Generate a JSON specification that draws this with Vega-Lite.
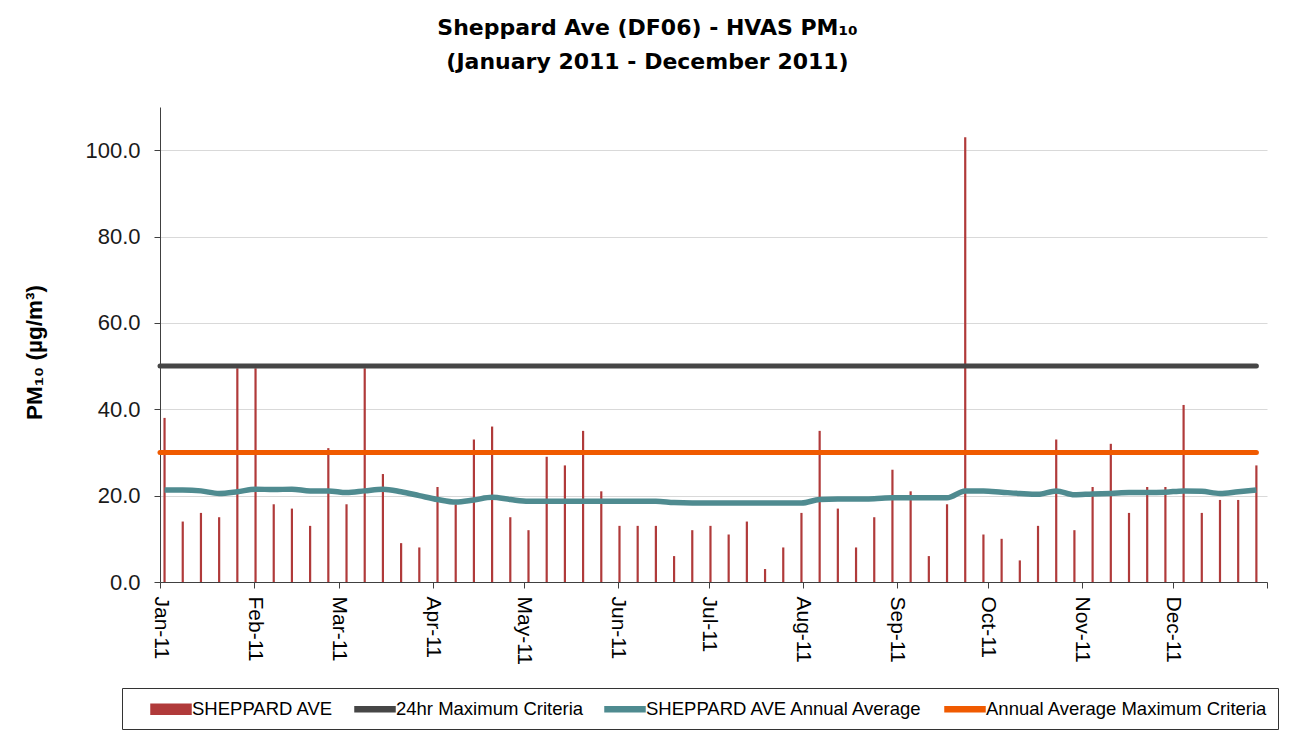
{
  "$schema": "https://vega.github.io/schema/vega-lite/v6.json",
  "width": 1107,
  "height": 475,
  "autosize": {"type": "none"},
  "padding": {"left": 160, "top": 107, "right": 26, "bottom": 154},
  "background": "white",
  "config": {"view": {"stroke": null}, "font": "Liberation Sans"},
  "title": {
    "text": ["Sheppard Ave (DF06) - HVAS PM₁₀", "(January 2011 - December 2011)"],
    "font": "DejaVu Sans",
    "fontSize": 22,
    "fontWeight": "bold",
    "lineHeight": 34,
    "anchor": "middle",
    "frame": "group",
    "dx": -66,
    "offset": 33,
    "color": "#000000"
  },
  "datasets": {
    "samples": [
      {"date": "2011-01-02T12:00:00", "pm10": 38, "avg": 21.3},
      {"date": "2011-01-08T12:00:00", "pm10": 14, "avg": 21.3},
      {"date": "2011-01-14T12:00:00", "pm10": 16, "avg": 21.1},
      {"date": "2011-01-20T12:00:00", "pm10": 15, "avg": 20.5},
      {"date": "2011-01-26T12:00:00", "pm10": 49.5, "avg": 20.9},
      {"date": "2011-02-01T12:00:00", "pm10": 49.5, "avg": 21.5},
      {"date": "2011-02-07T12:00:00", "pm10": 18, "avg": 21.4},
      {"date": "2011-02-13T12:00:00", "pm10": 17, "avg": 21.5},
      {"date": "2011-02-19T12:00:00", "pm10": 13, "avg": 21.1},
      {"date": "2011-02-25T12:00:00", "pm10": 31, "avg": 21.1},
      {"date": "2011-03-03T12:00:00", "pm10": 18, "avg": 20.7},
      {"date": "2011-03-09T12:00:00", "pm10": 49.5, "avg": 21.1},
      {"date": "2011-03-15T12:00:00", "pm10": 25, "avg": 21.5},
      {"date": "2011-03-21T12:00:00", "pm10": 9, "avg": 20.9},
      {"date": "2011-03-27T12:00:00", "pm10": 8, "avg": 20.0},
      {"date": "2011-04-02T12:00:00", "pm10": 22, "avg": 19.1},
      {"date": "2011-04-08T12:00:00", "pm10": 18, "avg": 18.5},
      {"date": "2011-04-14T12:00:00", "pm10": 33, "avg": 19.0},
      {"date": "2011-04-20T12:00:00", "pm10": 36, "avg": 19.6},
      {"date": "2011-04-26T12:00:00", "pm10": 15, "avg": 19.1},
      {"date": "2011-05-02T12:00:00", "pm10": 12, "avg": 18.7},
      {"date": "2011-05-08T12:00:00", "pm10": 29, "avg": 18.7},
      {"date": "2011-05-14T12:00:00", "pm10": 27, "avg": 18.7},
      {"date": "2011-05-20T12:00:00", "pm10": 35, "avg": 18.7},
      {"date": "2011-05-26T12:00:00", "pm10": 21, "avg": 18.7},
      {"date": "2011-06-01T12:00:00", "pm10": 13, "avg": 18.7},
      {"date": "2011-06-07T12:00:00", "pm10": 13, "avg": 18.7},
      {"date": "2011-06-13T12:00:00", "pm10": 13, "avg": 18.7},
      {"date": "2011-06-19T12:00:00", "pm10": 6, "avg": 18.4},
      {"date": "2011-06-25T12:00:00", "pm10": 12, "avg": 18.3},
      {"date": "2011-07-01T12:00:00", "pm10": 13, "avg": 18.3},
      {"date": "2011-07-07T12:00:00", "pm10": 11, "avg": 18.3},
      {"date": "2011-07-13T12:00:00", "pm10": 14, "avg": 18.3},
      {"date": "2011-07-19T12:00:00", "pm10": 3, "avg": 18.3},
      {"date": "2011-07-25T12:00:00", "pm10": 8, "avg": 18.3},
      {"date": "2011-07-31T12:00:00", "pm10": 16, "avg": 18.3},
      {"date": "2011-08-06T12:00:00", "pm10": 35, "avg": 19.1},
      {"date": "2011-08-12T12:00:00", "pm10": 17, "avg": 19.2},
      {"date": "2011-08-18T12:00:00", "pm10": 8, "avg": 19.2},
      {"date": "2011-08-24T12:00:00", "pm10": 15, "avg": 19.3},
      {"date": "2011-08-30T12:00:00", "pm10": 26, "avg": 19.5},
      {"date": "2011-09-05T12:00:00", "pm10": 21, "avg": 19.5},
      {"date": "2011-09-11T12:00:00", "pm10": 6, "avg": 19.5},
      {"date": "2011-09-17T12:00:00", "pm10": 18, "avg": 19.5},
      {"date": "2011-09-23T12:00:00", "pm10": 103, "avg": 21.1},
      {"date": "2011-09-29T12:00:00", "pm10": 11, "avg": 21.1},
      {"date": "2011-10-05T12:00:00", "pm10": 10, "avg": 20.8},
      {"date": "2011-10-11T12:00:00", "pm10": 5, "avg": 20.5},
      {"date": "2011-10-17T12:00:00", "pm10": 13, "avg": 20.3},
      {"date": "2011-10-23T12:00:00", "pm10": 33, "avg": 21.1},
      {"date": "2011-10-29T12:00:00", "pm10": 12, "avg": 20.2},
      {"date": "2011-11-04T12:00:00", "pm10": 22, "avg": 20.4},
      {"date": "2011-11-10T12:00:00", "pm10": 32, "avg": 20.5},
      {"date": "2011-11-16T12:00:00", "pm10": 16, "avg": 20.7},
      {"date": "2011-11-22T12:00:00", "pm10": 22, "avg": 20.7},
      {"date": "2011-11-28T12:00:00", "pm10": 22, "avg": 20.8},
      {"date": "2011-12-04T12:00:00", "pm10": 41, "avg": 21.1},
      {"date": "2011-12-10T12:00:00", "pm10": 16, "avg": 21.0},
      {"date": "2011-12-16T12:00:00", "pm10": 19, "avg": 20.5},
      {"date": "2011-12-22T12:00:00", "pm10": 19, "avg": 20.9},
      {"date": "2011-12-28T12:00:00", "pm10": 27, "avg": 21.3}
    ],
    "criteria": [
      {"date": "2011-01-01T00:00:00", "value": 50, "series": "24hr Maximum Criteria"},
      {"date": "2011-12-28T12:00:00", "value": 50, "series": "24hr Maximum Criteria"},
      {"date": "2011-01-01T00:00:00", "value": 30, "series": "Annual Average Maximum Criteria"},
      {"date": "2011-12-28T12:00:00", "value": 30, "series": "Annual Average Maximum Criteria"}
    ]
  },
  "layer": [
    {
      "data": {"name": "samples"},
      "mark": {"type": "bar", "size": 2.2, "color": "#B03A3A"},
      "encoding": {
        "x": {
          "field": "date",
          "type": "temporal",
          "scale": {"domain": [{"year": 2011, "month": 1, "date": 1}, {"year": 2012, "month": 1, "date": 1}], "padding": 0},
          "axis": {
            "title": null,
            "grid": false,
            "tickCount": {"interval": "month", "step": 1},
            "format": "%b-%y",
            "labelExpr": "year(datum.value) > 2011 ? '' : datum.label",
            "labelAngle": 90,
            "labelFontSize": 21,
            "labelPadding": 8,
            "labelColor": "#000000",
            "domainColor": "#404040",
            "tickColor": "#404040",
            "tickSize": 6
          }
        },
        "y": {
          "field": "pm10",
          "type": "quantitative",
          "scale": {"domain": [0, 110], "nice": false},
          "axis": {
            "title": "PM₁₀ (µg/m³)",
            "titleFont": "Liberation Sans",
            "titleFontSize": 22.5,
            "titleFontWeight": "bold",
            "titleColor": "#000000",
            "titlePadding": 38,
            "titleY": 245,
            "values": [0, 20, 40, 60, 80, 100],
            "format": ".1f",
            "labelFontSize": 22,
            "labelColor": "#1a1a1a",
            "labelPadding": 14,
            "grid": true,
            "gridColor": "#D9D9D9",
            "domainColor": "#404040",
            "tickColor": "#404040",
            "tickSize": 6
          }
        },
        "color": {
          "datum": "SHEPPARD AVE",
          "title": null,
          "scale": {
            "domain": ["SHEPPARD AVE", "24hr Maximum Criteria", "SHEPPARD AVE Annual Average", "Annual Average Maximum Criteria"],
            "range": ["#B03A3A", "#464646", "#4F8B90", "#F05A00"]
          },
          "legend": {
            "orient": "none",
            "legendX": -38,
            "legendY": 581,
            "direction": "horizontal",
            "title": null,
            "labelFont": "Liberation Sans",
            "labelFontSize": 18.5,
            "labelColor": "#000000",
            "labelLimit": 0,
            "labelOffset": 38,
            "columnPadding": 2,
            "padding": 10,
            "strokeColor": "#333333",
            "fillColor": "white",
            "symbolSize": 400,
            "encode": {
              "symbols": {
                "update": {
                  "shape": {"signal": "datum.value === 'SHEPPARD AVE' ? 'M0.8,-0.5H4.8V0.5H0.8Z' : 'M0.8,-0.25H4.8V0.25H0.8Z'"},
                  "fill": {"scale": "color", "field": "value"},
                  "stroke": {"value": "transparent"},
                  "opacity": {"value": 1},
                  "fillOpacity": {"value": 1},
                  "size": {"value": 400}
                }
              }
            }
          }
        }
      }
    },
    {
      "data": {"name": "criteria"},
      "mark": {"type": "line", "strokeWidth": 5, "strokeCap": "round"},
      "encoding": {
        "x": {"field": "date", "type": "temporal"},
        "y": {"field": "value", "type": "quantitative"},
        "color": {"field": "series", "type": "nominal", "title": null},
        "detail": {"field": "series"}
      }
    },
    {
      "data": {"name": "samples"},
      "mark": {"type": "line", "strokeWidth": 5.5, "interpolate": "monotone"},
      "encoding": {
        "x": {"field": "date", "type": "temporal"},
        "y": {"field": "avg", "type": "quantitative"},
        "color": {"datum": "SHEPPARD AVE Annual Average"}
      }
    }
  ]
}
